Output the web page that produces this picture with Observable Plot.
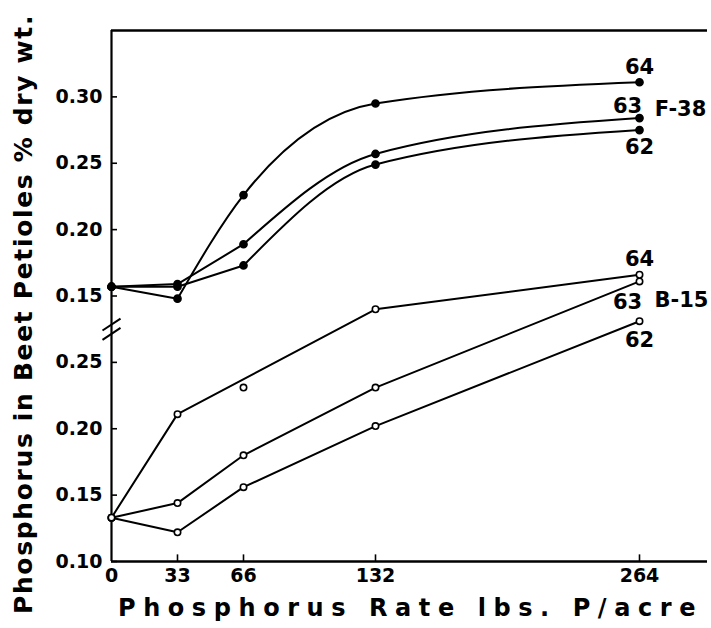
<!DOCTYPE html>
<html><head><meta charset="utf-8">
<script src="https://cdn.jsdelivr.net/npm/d3@7"></script>
<script src="https://cdn.jsdelivr.net/npm/@observablehq/plot@0.6"></script>
<style>body{margin:0;background:#fff} #chart svg{display:block}</style>
</head><body><div id="chart"></div>
<script>
// ---- data ----
const rates = [0, 33, 66, 132, 264];
const f38_62 = [0.157, 0.157, 0.173, 0.249, 0.275];
const f38_63 = [0.157, 0.159, 0.189, 0.257, 0.284];
const f38_64 = [0.157, 0.148, 0.226, 0.295, 0.311];
const b15_62 = [0.133, 0.122, 0.156, 0.202, 0.281];
const b15_63 = [0.133, 0.144, 0.180, 0.231, 0.311];
const b15_64 = [0.133, 0.211, 0.231, 0.290, 0.316];
const b15_64_offLine = [66];          // point drawn but not joined by the line
const xTickValues = [0, 33, 66, 132, 264];
const yTicksLower = [0.10, 0.15, 0.20, 0.25];   // B-15 scale
const yTicksUpper = [0.15, 0.20, 0.25, 0.30];   // F-38 scale
const breakOffset = 0.15;             // upper panel shifted by this on the shared axis
const yLabel = "Phosphorus in Beet Petioles % dry wt.";
const xLabel = "Phosphorus Rate lbs. P/acre";

const series = [
  {variety: "F-38", year: "62", values: f38_62, upper: true},
  {variety: "F-38", year: "63", values: f38_63, upper: true},
  {variety: "F-38", year: "64", values: f38_64, upper: true},
  {variety: "B-15", year: "62", values: b15_62, upper: false},
  {variety: "B-15", year: "63", values: b15_63, upper: false},
  {variety: "B-15", year: "64", values: b15_64, upper: false}
];
const rows = series.flatMap(s => rates.map((r, i) => ({
  variety: s.variety, year: s.year, key: s.variety + " " + s.year,
  rate: r, value: s.values[i], yv: s.values[i] + (s.upper ? breakOffset : 0)
})));

// label placement (screen-pixel offsets from each series' last point)
const labelOffsets = {
  "F-38 64": [0, -15], "F-38 63": [-12, -12], "F-38 62": [0, 17],
  "B-15 64": [0, -15], "B-15 63": [-12, 21], "B-15 62": [0, 19]
};
const varietyOffsets = {"F-38": [41, -9], "B-15": [42, 19]};
// F-38 lines are drawn straight up to this rate, smooth after it
const smoothFrom = {"62": 66, "63": 66, "64": 33};

const yTickVirtual = yTicksLower.concat(yTicksUpper.map(v => v + breakOffset));
const yTickText = yTicksLower.concat(yTicksUpper).map(v => v.toFixed(2));
const yTickFmt = d => { const i = yTickVirtual.findIndex(t => Math.abs(t - d) < 1e-9); return i >= 0 ? yTickText[i] : ""; };

const yDomain = [0.10, 0.50];
const xDomain = [0, 298];
const breakY = (yTicksLower[yTicksLower.length - 1] + yTicksUpper[0] + breakOffset) / 2;
const breaks = [breakY - 0.0035, breakY + 0.0035].map(y => ({x1: -4.5, x2: 4.5, y1: y - 0.0045, y2: y + 0.0045}));

const last = rows.filter(d => d.rate === rates[rates.length - 1]);
const upperRows = rows.filter(d => d.variety === "F-38");
const lowerRows = rows.filter(d => d.variety === "B-15");

const labelMarks = last.map(d => Plot.text([d], {
  x: "rate", y: "yv", text: "year", dx: labelOffsets[d.key][0], dy: labelOffsets[d.key][1],
  fontSize: 21, fontWeight: "bold"
}));
const varietyMarks = last.filter(d => d.year === "63").map(d => Plot.text([d], {
  x: "rate", y: "yv", text: "variety", dx: varietyOffsets[d.variety][0], dy: varietyOffsets[d.variety][1],
  fontSize: 21, fontWeight: "bold"
}));

const chart = Plot.plot({
  width: 711, height: 628,
  marginLeft: 111, marginRight: 4, marginTop: 30, marginBottom: 67,
  style: {fontFamily: "DejaVu Sans", fontSize: "19px", fontWeight: "bold", background: "white", color: "black", overflow: "visible"},
  x: {domain: xDomain},
  y: {domain: yDomain},
  marks: [
    // frame pieces
    Plot.ruleX([0], {strokeWidth: 2.2}),
    Plot.ruleY([yDomain[1]], {strokeWidth: 2.5}),
    Plot.ruleY([yDomain[0]], {strokeWidth: 2.5}),
    // inward ticks
    Plot.ruleY(yTickVirtual, {x1: 0, x2: 3, strokeWidth: 1.6}),
    Plot.ruleX(xTickValues.slice(1), {y1: yDomain[0], y2: yDomain[0] + 0.005, strokeWidth: 1.6}),
    // axis break marks
    Plot.link(breaks, {x1: "x1", y1: "y1", x2: "x2", y2: "y2", strokeWidth: 2}),
    Plot.axisY({ticks: yTickVirtual, tickFormat: yTickFmt, tickSize: 0, tickPadding: 9, label: null}),
    Plot.axisX({ticks: xTickValues, tickFormat: d => String(d), tickSize: 0, tickPadding: 7, label: null}),
    // F-38: straight segments at low rates, then smooth
    Plot.line(upperRows.filter(d => d.rate <= smoothFrom[d.year]), {x: "rate", y: "yv", z: "key", strokeWidth: 2}),
    Plot.line(upperRows.filter(d => d.rate >= smoothFrom[d.year]), {x: "rate", y: "yv", z: "key", curve: "monotone-x", strokeWidth: 2}),
    // B-15
    Plot.line(lowerRows.filter(d => !(d.year === "64" && b15_64_offLine.includes(d.rate))), {x: "rate", y: "yv", z: "key", strokeWidth: 2}),
    Plot.dot(upperRows, {x: "rate", y: "yv", r: 3.6, fill: "black", stroke: "black"}),
    Plot.dot(lowerRows, {x: "rate", y: "yv", r: 3.2, fill: "white", stroke: "black", strokeWidth: 1.6}),
    ...labelMarks,
    ...varietyMarks,
    Plot.text([yLabel], {frameAnchor: "left", textAnchor: "middle", lineAnchor: "middle", rotate: -90, dx: -88, dy: 18, fontSize: 25, fontWeight: "bold"}),
    Plot.text([xLabel], {frameAnchor: "bottom", textAnchor: "middle", lineAnchor: "middle", dx: 1, dy: 47, fontSize: 24, fontWeight: "bold"})
  ]
});
document.getElementById("chart").appendChild(chart);
// stretch the two axis titles to the widths they have in the reference
const targets = [[yLabel, 600], [xLabel, 585]];
chart.querySelectorAll("text").forEach(t => {
  const hit = targets.find(([s]) => s === t.textContent);
  if (!hit) return;
  const len = t.getComputedTextLength();
  const n = t.textContent.length;
  const ls = (hit[1] - len) / n;
  t.style.letterSpacing = ls.toFixed(2) + "px";
});
</script>
</body></html>
